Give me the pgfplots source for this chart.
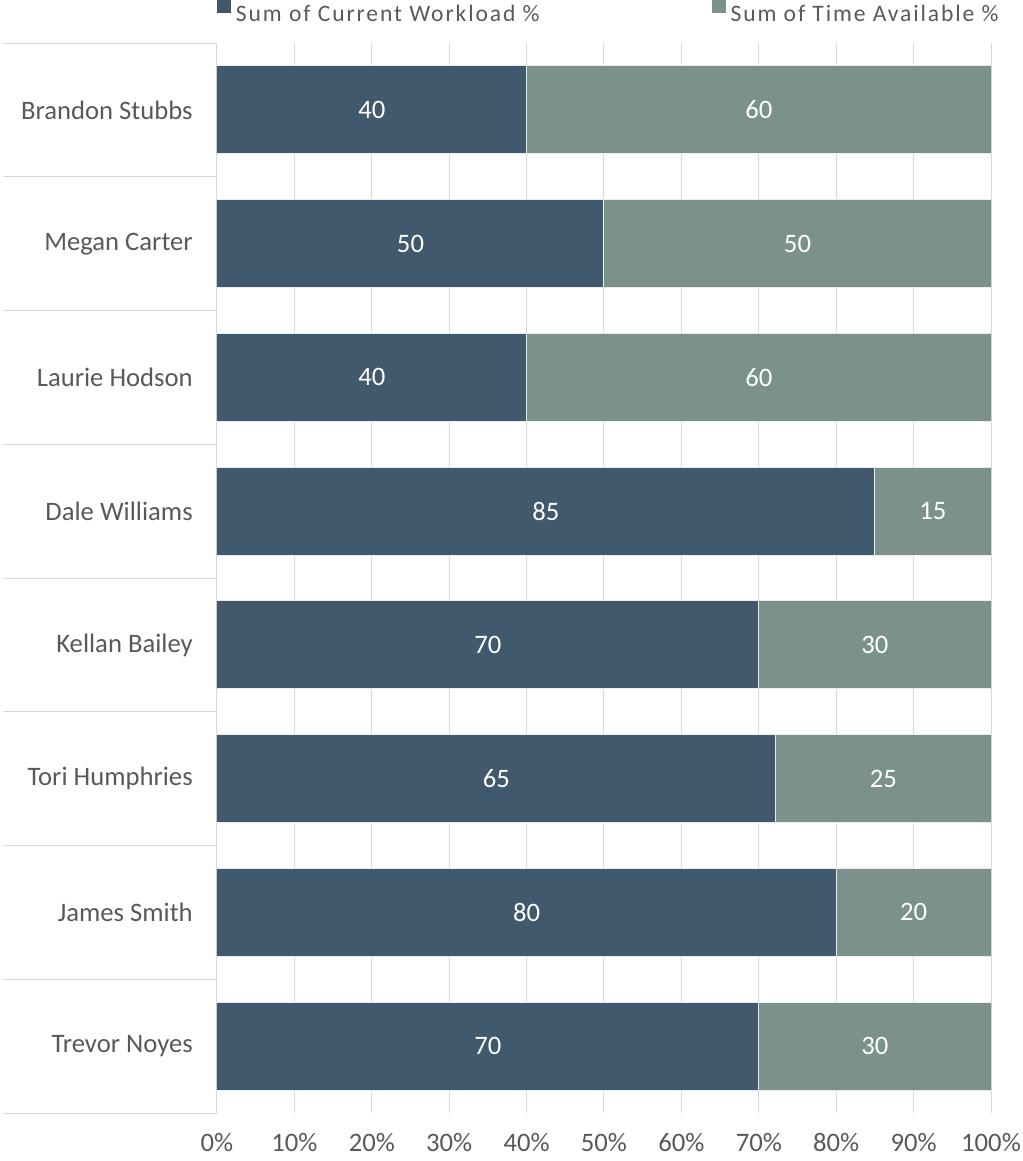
\documentclass[border=0pt]{standalone}
\usepackage{pgfplots}
\usepackage{pgfplotstable}
\pgfplotsset{compat=1.18}
\usepackage{fontspec}
\setmainfont{Carlito}
\newfontfamily\legfont[LetterSpace=8]{Carlito}
\definecolor{work}{HTML}{40596C}
\definecolor{avail}{HTML}{7A928B}
\definecolor{txt}{HTML}{595959}
\definecolor{gridc}{HTML}{D9D9D9}
\pgfplotstableread{
idx work avail workpct availpct
0 40 60 40 60
1 50 50 50 50
2 40 60 40 60
3 85 15 85 15
4 70 30 70 30
5 65 25 72.22 27.78
6 80 20 80 20
7 70 30 70 30
}\datatable
\begin{document}
\begin{tikzpicture}
\useasboundingbox (-162.75pt,-36pt) rectangle (604.5pt,834.75pt);
\begin{axis}[
  at={(0pt,0pt)}, anchor=south west,
  scale only axis, width=580.5pt, height=802.5pt,
  xbar stacked, bar width=66pt,
  xmin=0, xmax=100, ymin=-0.5, ymax=7.5, y dir=reverse,
  separate axis lines,
  x axis line style={draw=none},
  y axis line style={draw=gridc, line width=0.75pt},
  xtick={0,10,...,100},
  xticklabel={\pgfmathprintnumber{\tick}\%},
  /pgf/number format/assume math mode=true,
  xtick pos=bottom, ytick pos=left,
  major tick length=0pt,
  tick align=outside,
  ytick={0,...,7},
  yticklabels={Brandon Stubbs,Megan Carter,Laurie Hodson,Dale Williams,Kellan Bailey,Tori Humphries,James Smith,Trevor Noyes},
  minor ytick={-0.5,0.5,...,7.5},
  minor tick length=160.5pt,
  minor tick style={draw=gridc, line width=0.75pt},
  xmajorgrids,
  major grid style={draw=gridc, line width=0.75pt},
  every tick label/.append style={font=\fontsize{20}{24}\selectfont, text=txt},
  xticklabel style={anchor=base, inner sep=0pt, yshift=-28.9pt},
  yticklabel style={anchor=east, inner sep=0pt, xshift=-18pt},
  nodes near coords,
  point meta=explicit,
  every node near coord/.append style={anchor=center, text=white, font=\fontsize{20}{24}\selectfont, inner sep=0pt},
  legend columns=2,
  legend image code/.code={\fill[#1,draw=none] (0pt,0.75pt) rectangle (10.5pt,10.5pt);},
  legend style={draw=none, fill=none, inner sep=0pt, outer sep=0pt,
    at={(rel axis cs:0,1)}, anchor=south west, xshift=0pt, yshift=15pt,
    font=\fontsize{17.7}{21}\legfont, text=txt,
    nodes={inner sep=0pt},
    /tikz/every odd column/.style={column sep=3.75pt},
    /tikz/every even column/.style={column sep=129pt}},
]
\addplot[fill=work, draw=white!85!gray, line width=0.75pt]
  table[x=workpct, y=idx, meta=work] {\datatable};
\addlegendentry{Sum of Current Workload \%}
\addplot[fill=avail, draw=white!85!gray, line width=0.75pt]
  table[x=availpct, y=idx, meta=avail] {\datatable};
\addlegendentry{Sum of Time Available \%}
\end{axis}
\end{tikzpicture}
\end{document}
